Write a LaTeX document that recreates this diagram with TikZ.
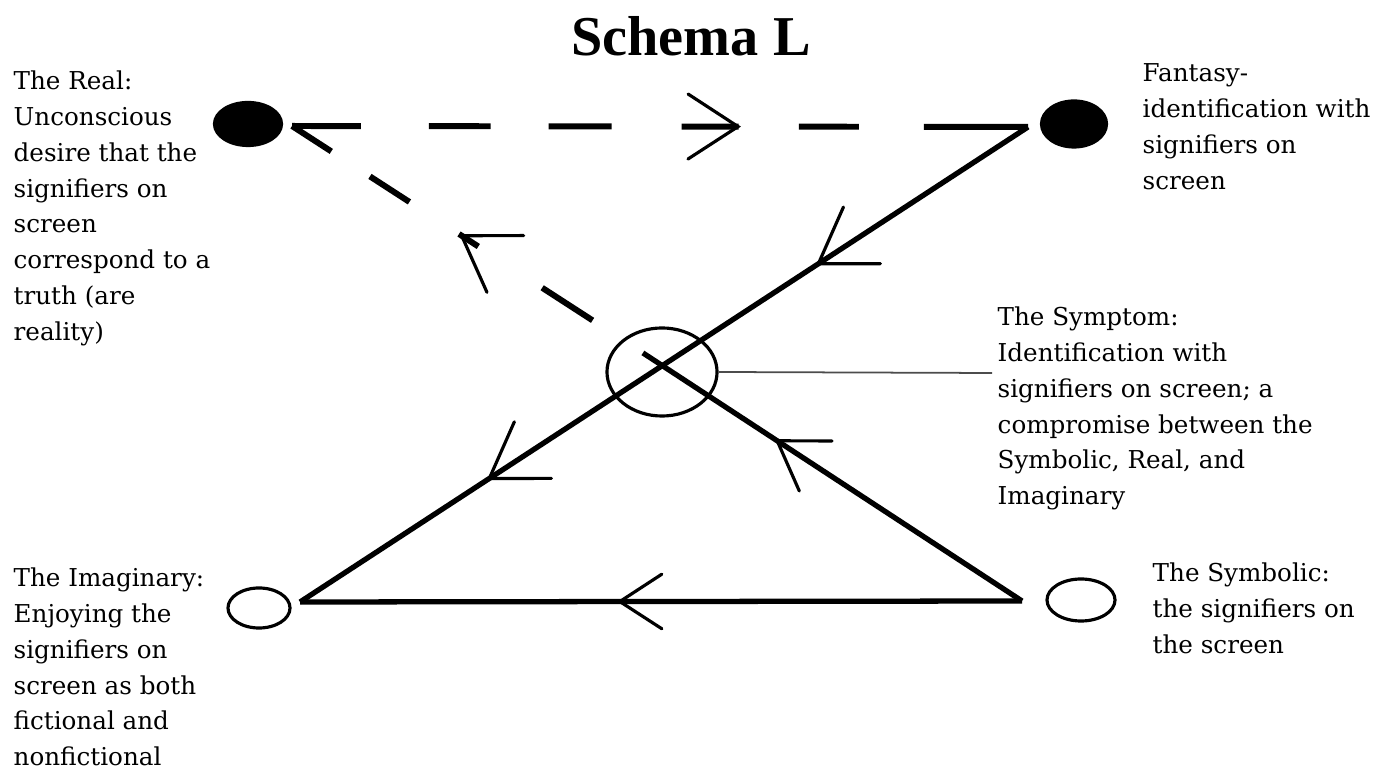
\documentclass[tikz,border=0pt]{standalone}
\usepackage{fontspec}
\setmainfont{DejaVu Serif}
\newfontfamily\titlefont{Liberation Serif}
\usetikzlibrary{shapes.geometric,decorations.markings}

\tikzset{
  blob/.style={ellipse,draw,line width=0.9pt,inner sep=0pt},
  lbl/.style={anchor=north west,inner sep=0pt,align=left,font=\fontsize{7}{10.2}\selectfont},
  chev/.style 2 args={postaction={decorate,decoration={markings,
    mark=at position #1 with {\draw[solid,line width=0.9pt,line cap=round] (-#2,0.65*#2) -- (0,0) -- (-#2,-0.65*#2);}}}},
  link/.style={line width=1.5pt},
  dlink/.style={line width=1.7pt}
}

\begin{document}
\begin{tikzpicture}[x=0.01cm,y=-0.01cm]
  \useasboundingbox (0,0) rectangle (1392,771);
  \node[font=\titlefont\bfseries\fontsize{16}{19}\selectfont] (title) at (691,36) {Schema L};

  % the four places and the symptom
  \node[blob,fill,minimum width=0.67cm,minimum height=0.43cm] (real) at (248,124) {};
  \node[blob,fill,minimum width=0.65cm,minimum height=0.46cm] (fantasy) at (1074,124) {};
  \node[blob,minimum width=0.62cm,minimum height=0.40cm] (imag) at (259,608) {};
  \node[blob,minimum width=0.68cm,minimum height=0.42cm] (symb) at (1081,600) {};
  \node[blob,minimum width=1.10cm,minimum height=0.88cm] (symptom) at (662,372) {};

  \coordinate (A) at (1028,127);
  \coordinate (B) at (292,126);
  \coordinate (C) at (300,602);
  \coordinate (D) at (1022,601);
  \coordinate (S) at (643,353);
  \coordinate (note) at (992,373);

  % connectors
  \draw[dlink,dash pattern=on 19.6pt off 19.3pt on 17.6pt off 16.5pt on 17.9pt off 19.9pt on 16.2pt off 17.1pt on 17.1pt off 18.5pt on 29.9pt off 5pt,
        chev={0.606}{50}] (B) -- (A);
  \draw[link,chev={0.288}{52},chev={0.74}{52}] (A) -- (C);
  \draw[link,chev={0.557}{42}] (D) -- (C);
  \draw[link,chev={0.646}{46}] (D) -- (S);
  \draw[dlink,dash pattern=on 17.07pt off 21.62pt on 6.54pt off 16.79pt on 13.37pt off 13.09pt on 14.23pt off 17.07pt,
        dash phase=102.7pt,chev={0.517}{52}] (S) -- (B);
  \draw[line width=0.5pt,black!70] (symptom.east) -- (note);

  % labels
  \node[lbl] (reallbl) at (13,70) {The Real:\\Unconscious\\desire that the\\signifiers on\\screen\\correspond to a\\truth (are\\reality)};
  \node[lbl] (fantlbl) at (1142,63) {Fantasy-\\identification with\\signifiers on\\screen};
  \node[lbl] (symptlbl) at (997,306) {The Symptom:\\Identification with\\signifiers on screen; a\\compromise between the\\Symbolic, Real, and\\Imaginary};
  \node[lbl] (imaglbl) at (13,567) {The Imaginary:\\Enjoying the\\signifiers on\\screen as both\\fictional and\\nonfictional};
  \node[lbl] (symblbl) at (1152,562) {The Symbolic:\\the signifiers on\\the screen};
\end{tikzpicture}
\end{document}
